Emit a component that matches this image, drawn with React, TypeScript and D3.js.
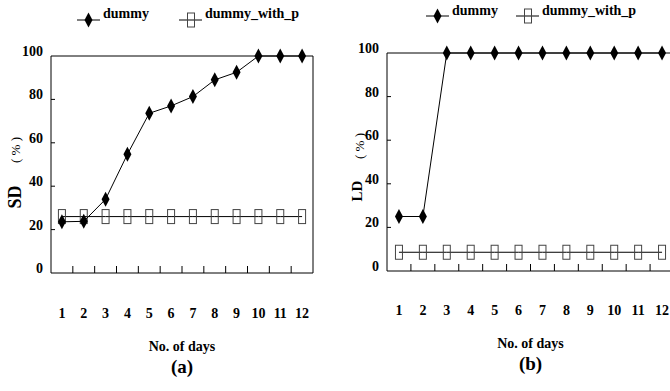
import React from "react";
import * as d3 from "d3";

const days = ["1", "2", "3", "4", "5", "6", "7", "8", "9", "10", "11", "12"];
const sdDummy = [23.6, 23.8, 34, 54.7, 73.6, 77, 81.3, 89, 92.5, 100, 100, 100];
const sdDummyWithP = [26, 26, 26, 26, 26, 26, 26, 26, 26, 26, 26, 26];
const ldDummy = [25, 25, 100, 100, 100, 100, 100, 100, 100, 100, 100, 100];
const ldDummyWithP = [8.6, 8.6, 8.6, 8.6, 8.6, 8.6, 8.6, 8.6, 8.6, 8.6, 8.6, 8.6];
const yTicks = [0, 20, 40, 60, 80, 100];

const FONT = "'Liberation Serif', 'Times New Roman', serif";

const Diamond = ({ x, y }) => (
  <path d={`M${x},${y - 7.5}L${x + 4},${y}L${x},${y + 7.5}L${x - 4},${y}Z`} fill="#000" />
);

const Box = ({ x, y }) => (
  <rect x={x - 3.5} y={y - 7} width={7} height={14} fill="none" stroke="#444" strokeWidth={1} />
);

const Legend = ({ x1, x2, y, ty }) => (
  <g fontFamily={FONT} fontWeight="bold" fontSize={14}>
    <line x1={x1} x2={x1 + 23} y1={y} y2={y} stroke="#000" />
    <Diamond x={x1 + 11.5} y={y} />
    <text x={x1 + 26} y={ty}>dummy</text>
    <line x1={x2} x2={x2 + 23} y1={y} y2={y} stroke="#000" />
    <Box x={x2 + 12} y={y} />
    <text x={x2 + 26} y={ty}>dummy_with_p</text>
  </g>
);

const Panel = ({ left, right, top, bottom, a, b, yName, yNameSize, yNameX, yNameY, pctX, pctY, letter, labelShift }) => {
  const x = d3.scaleBand().domain(days).range([left, right]).padding(0);
  const y = d3.scaleLinear().domain([0, 100]).range([bottom, top]);
  const cx = (d) => x(d) + x.bandwidth() / 2;
  const line = d3
    .line()
    .x((_, i) => cx(days[i]))
    .y((v) => y(v));
  const mid = (left + right) / 2;
  return (
    <g fontFamily={FONT}>
      {/* frame */}
      <line x1={left} x2={left} y1={top} y2={bottom} stroke="#000" />
      <line x1={left} x2={right} y1={bottom} y2={bottom} stroke="#000" />
      <line x1={left} x2={right} y1={top} y2={top} stroke="#000" />
      <line x1={right} x2={right} y1={top} y2={bottom} stroke="#000" />
      {yTicks.map((t) => (
        <g key={t}>
          {t > 0 && t < 100 && <line x1={left} x2={left + 4} y1={y(t)} y2={y(t)} stroke="#000" />}
          <text x={left - 8} y={y(t)} textAnchor="end" fontSize={14} fontWeight="bold">
            {t}
          </text>
        </g>
      ))}
      {days.slice(1).map((d) => (
        <line key={d} x1={x(d)} x2={x(d)} y1={bottom} y2={bottom - 7} stroke="#000" />
      ))}
      {days.map((d) => (
        <text key={d} x={cx(d)} y={bottom + 45 + labelShift} textAnchor="middle" fontSize={14} fontWeight="bold">
          {d}
        </text>
      ))}
      <text x={mid} y={bottom + 78 + labelShift} textAnchor="middle" fontSize={14} fontWeight="bold">
        No. of days
      </text>
      <text x={mid} y={bottom + 100 + labelShift} textAnchor="middle" fontSize={19} fontWeight="bold">
        {letter}
      </text>
      <text
        transform={`translate(${yNameX},${yNameY}) rotate(-90)`}
        textAnchor="middle"
        dominantBaseline="central"
        fontSize={yNameSize}
        fontWeight="bold"
      >
        {yName}
      </text>
      <text
        transform={`translate(${pctX},${pctY}) rotate(-90)`}
        textAnchor="middle"
        dominantBaseline="central"
        fontSize={13}
      >
        ( % )
      </text>
      <path d={line(b)} fill="none" stroke="#000" />
      {b.map((v, i) => (
        <Box key={i} x={cx(days[i])} y={y(v)} />
      ))}
      <path d={line(a)} fill="none" stroke="#000" />
      {a.map((v, i) => (
        <Diamond key={i} x={cx(days[i])} y={y(v)} />
      ))}
    </g>
  );
};

export default function App() {
  return (
    <svg width={670} height={391} style={{ position: "absolute", left: 0, top: 0, background: "#fff" }}>
      <Legend x1={77} x2={179} y={20} ty={18} />
      <Legend x1={426} x2={516} y={16} ty={15} />
      <Panel
        left={51}
        right={313}
        top={56}
        bottom={273}
        a={sdDummy}
        b={sdDummyWithP}
        yName="SD"
        yNameSize={18}
        yNameX={15}
        yNameY={197}
        pctX={15}
        pctY={150}
        letter="(a)"
        labelShift={0}
      />
      <Panel
        left={387}
        right={674}
        top={53}
        bottom={271}
        a={ldDummy}
        b={ldDummyWithP}
        yName="LD"
        yNameSize={15}
        yNameX={357}
        yNameY={191}
        pctX={359}
        pctY={146}
        letter="(b)"
        labelShift={-1}
      />
    </svg>
  );
}
